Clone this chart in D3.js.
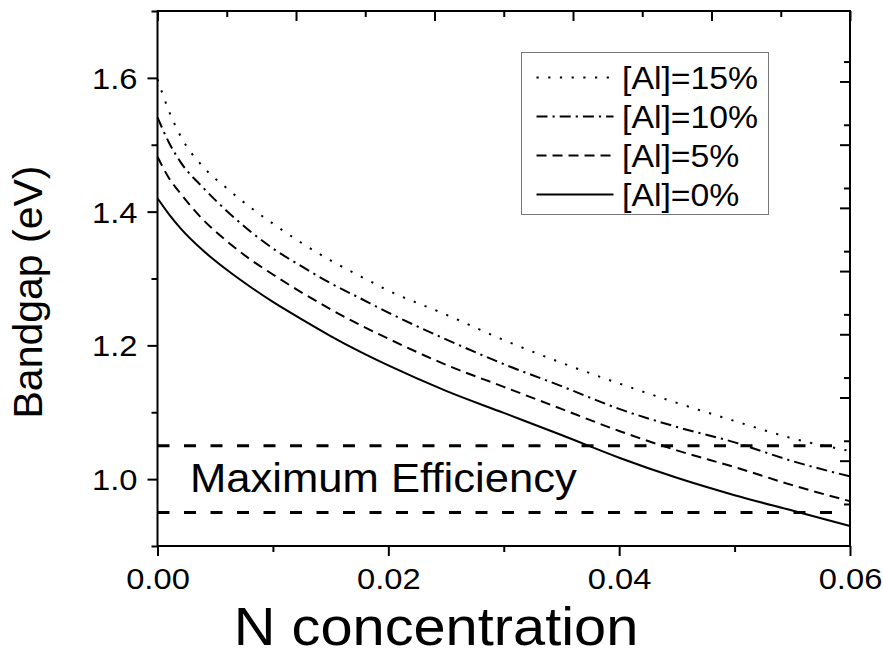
<!DOCTYPE html>
<html>
<head>
<meta charset="utf-8">
<script src="https://cdn.jsdelivr.net/npm/d3@7"></script>
<style>
  body { margin: 0; background: #fff; }
  svg { display: block; font-family: "Liberation Sans", Arial, sans-serif; }
</style>
</head>
<body>
<svg></svg>
<script>
const width = 883, height = 656;
const svg = d3.select("svg").attr("width", width).attr("height", height);

// N concentration (x) sample points
const nConc = [0, 0.001, 0.002, 0.004, 0.006, 0.008, 0.01, 0.0125, 0.015, 0.0175, 0.02, 0.025, 0.03, 0.035, 0.04, 0.045, 0.05, 0.055, 0.06];

// bandgap (eV) for each Al content
const gapAl15 = [1.598, 1.550, 1.513, 1.466, 1.435, 1.407, 1.382, 1.353, 1.327, 1.304, 1.282, 1.246, 1.208, 1.174, 1.143, 1.114, 1.087, 1.061, 1.042];
const gapAl10 = [1.541, 1.503, 1.474, 1.435, 1.401, 1.371, 1.345, 1.318, 1.293, 1.271, 1.249, 1.209, 1.172, 1.139, 1.105, 1.078, 1.055, 1.027, 1.004];
const gapAl5  = [1.482, 1.450, 1.427, 1.387, 1.356, 1.329, 1.306, 1.279, 1.254, 1.231, 1.210, 1.171, 1.138, 1.105, 1.072, 1.043, 1.018, 0.991, 0.967];
const gapAl0  = [1.420, 1.396, 1.375, 1.341, 1.313, 1.288, 1.265, 1.239, 1.214, 1.191, 1.170, 1.132, 1.099, 1.066, 1.032, 1.002, 0.976, 0.953, 0.930];

const seriesLabels = ["[Al]=15%", "[Al]=10%", "[Al]=5%", "[Al]=0%"];
const seriesDash = ["2.2,9.5", "11,5,2.2,5", "10,6", null];

// efficiency window
const effBand = [1.05, 0.95];

// axis ticks
const xMajor = [0, 0.02, 0.04, 0.06];
const xMinor = [0.01, 0.03, 0.05];
const yMajor = [1.0, 1.2, 1.4, 1.6];
const yMinor = [0.9, 1.1, 1.3, 1.5, 1.7];
const topMajor = [0, 1, 2, 3, 4, 5];
const topMinor = [0.5, 1.5, 2.5, 3.5, 4.5];
const rightMajor = [1.35, 2.35, 3.35, 4.35, 5.35, 6.35, 7.35];
const rightMinor = [0.665, 1.665, 2.665, 3.665, 4.665, 5.665, 6.665, 7.665];

const m = { left: 157.5, right: 850, top: 11, bottom: 546 };
const sx = 1.09; // horizontal stretch of the original picture's text

const x = d3.scaleLinear().domain([0, 0.06]).range([m.left, m.right]);
const y = d3.scaleLinear().domain([0.9, 1.7]).range([m.bottom, m.top]);
const xTop = d3.scaleLinear().domain([0, 5]).range([m.left, m.right]);
const yRight = d3.scaleLinear().domain([0, 8.465]).range([m.bottom, m.top]);

const series = [gapAl15, gapAl10, gapAl5, gapAl0].map((vals, i) => ({
    label: seriesLabels[i],
    dash: seriesDash[i],
    points: nConc.map((n, j) => ({ n: n, e: vals[j] }))
}));

// efficiency lines
svg.selectAll(".eff")
    .data(effBand)
    .enter().append("line")
    .attr("x1", x(0)).attr("x2", x(0.0595))
    .attr("y1", d => y(d)).attr("y2", d => y(d))
    .attr("stroke", "#000").attr("stroke-width", 3)
    .attr("stroke-dasharray", "12,14.5");

svg.append("text")
    .attr("transform", `translate(190,491.5) scale(${sx},1)`)
    .attr("font-size", 40)
    .text("Maximum Efficiency");

// curves
const line = d3.line().x(d => x(d.n)).y(d => y(d.e)).curve(d3.curveMonotoneX);
svg.selectAll(".curve")
    .data(series)
    .enter().append("path")
    .attr("d", d => line(d.points))
    .attr("fill", "none")
    .attr("stroke", "#000")
    .attr("stroke-width", 2)
    .attr("stroke-dasharray", d => d.dash);

// axes
function tickAxis(axis, scale, values, size) {
    return axis(scale).tickValues(values).tickSize(size).tickFormat("");
}

const gx = svg.append("g").attr("transform", `translate(0,${m.bottom})`);
gx.call(tickAxis(d3.axisBottom, x, xMinor, 6));
gx.call(g => g.append("g").call(d3.axisBottom(x).tickValues(xMajor).tickSize(10).tickFormat(d3.format(".2f"))));

const gy = svg.append("g").attr("transform", `translate(${m.left},0)`);
gy.call(tickAxis(d3.axisLeft, y, yMinor, 6));
gy.call(g => g.append("g").call(d3.axisLeft(y).tickValues(yMajor).tickSize(10).tickFormat(d3.format(".1f"))));

const gt = svg.append("g").attr("transform", `translate(0,${m.top})`);
gt.call(tickAxis(d3.axisBottom, xTop, topMinor, 6));
gt.call(g => g.append("g").call(tickAxis(d3.axisBottom, xTop, topMajor, 10)));

const gr = svg.append("g").attr("transform", `translate(${m.right},0)`);
gr.call(tickAxis(d3.axisLeft, yRight, rightMinor, 6));
gr.call(g => g.append("g").call(tickAxis(d3.axisLeft, yRight, rightMajor, 10)));

svg.selectAll(".domain").remove();
svg.selectAll(".tick line").attr("stroke", "#000").attr("stroke-width", 2);

svg.append("rect")
    .attr("x", m.left).attr("y", m.top)
    .attr("width", m.right - m.left).attr("height", m.bottom - m.top)
    .attr("fill", "none").attr("stroke", "#000").attr("stroke-width", 2);

// tick label styling
gx.selectAll("text")
    .attr("font-size", 30).attr("fill", "#000")
    .attr("y", 0).attr("dy", 0)
    .attr("transform", `translate(0,43) scale(${sx},1)`);
gy.selectAll("text")
    .attr("font-size", 30).attr("fill", "#000")
    .attr("x", 0).attr("dy", "0.35em")
    .attr("transform", `translate(-20,0) scale(${sx},1)`);

// axis titles
svg.append("text")
    .attr("transform", `translate(436,645) scale(${sx},1)`)
    .attr("text-anchor", "middle")
    .attr("font-size", 53)
    .text("N concentration");

svg.append("text")
    .attr("transform", "translate(42,292) rotate(-90)")
    .attr("text-anchor", "middle")
    .attr("font-size", 41)
    .text("Bandgap (eV)");

// legend
const legend = svg.append("g");
legend.append("rect")
    .attr("x", 521.5).attr("y", 52.5)
    .attr("width", 247).attr("height", 162)
    .attr("fill", "#fff").attr("stroke", "#777").attr("stroke-width", 1);

const rowY = d3.scalePoint().domain(seriesLabels).range([77.5, 194.5]);
const item = legend.selectAll(".item")
    .data(series)
    .enter().append("g")
    .attr("transform", d => `translate(0,${rowY(d.label)})`);
item.append("line")
    .attr("x1", 536.5).attr("x2", 613.5)
    .attr("stroke", "#000").attr("stroke-width", 2)
    .attr("stroke-dasharray", d => d.dash);
item.append("text")
    .attr("transform", `translate(622,11.5) scale(${sx},1)`)
    .attr("font-size", 31)
    .text(d => d.label);
</script>
</body>
</html>
